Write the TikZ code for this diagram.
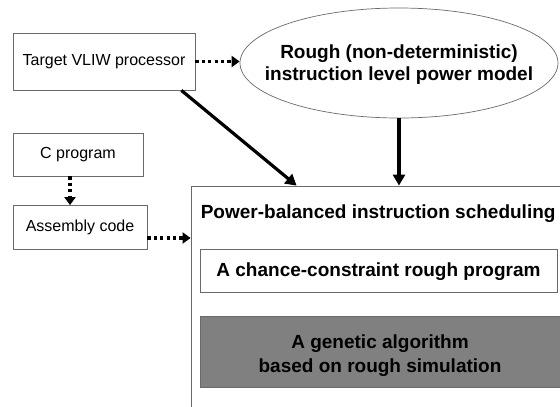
\documentclass[tikz,border=0pt]{standalone}
\usepackage{fontspec}
\setmainfont{Liberation Sans}
\usetikzlibrary{arrows.meta,shapes.geometric,calc}
\definecolor{edgegray}{HTML}{6A6A6A}
\definecolor{boxfill}{HTML}{808080}
\tikzset{
  box/.style={draw=edgegray, line width=0.8pt, rectangle, inner sep=0pt, font=\fontsize{16}{19}\selectfont},
  bbox/.style={draw=edgegray, line width=0.8pt, rectangle, inner sep=0pt},
  btext/.style={inner sep=0pt, align=center, font=\bfseries\fontsize{19}{23}\selectfont},
  dotarrow/.style={line width=3.2pt, dash pattern=on 3.2pt off 3.2pt, -{Triangle[length=8pt,width=11pt]}},
  solidarrow/.style={line width=3.2pt, -{Triangle[length=11pt,width=12pt]}},
}
\begin{document}
\begin{tikzpicture}[x=1pt,y=1pt]
\clip (0,0) rectangle (560,-407);
\fill[white] (0,0) rectangle (560,-407);
\node[box, minimum width=182pt, minimum height=57pt] (vliw) at (104,-61.5) {Target VLIW processor};
\node[box, minimum width=130pt, minimum height=43pt] (cprog) at (78,-154.5) {C program};
\node[box, minimum width=134pt, minimum height=44pt] (asm) at (80,-227.5) {Assembly code};
\node[draw=edgegray, line width=0.7pt, ellipse, inner sep=0pt, minimum width=318pt, minimum height=110pt] (model) at (399,-63) {};
\node[btext, font=\bfseries\fontsize{19}{22}\selectfont] (modeltext) at ($(model.center)+(0,-2)$) {Rough (non-deterministic)\\instruction level power model};
\node[draw=edgegray, line width=0.8pt, rectangle, inner sep=0pt, minimum width=409pt, minimum height=234pt] (sched) at (395.5,-303) {};
\node[font=\bfseries\fontsize{19}{23}\selectfont, anchor=west, inner sep=0pt] (title) at ($(sched.north west)+(10,-28)$) {Power-balanced instruction scheduling};
\node[bbox, minimum width=357pt, minimum height=43pt] (chance) at (378.5,-270.5) {};
\node[btext] (chancetext) at ($(chance.center)+(0,-1.5)$) {A chance-constraint rough program};
\node[bbox, fill=boxfill, minimum width=360pt, minimum height=71pt] (ga) at (380,-351.5) {};
\node[btext, font=\bfseries\fontsize{19}{24}\selectfont] (gatext) at ($(ga.center)+(0,-4)$) {A genetic algorithm\\based on rough simulation};
\draw[dotarrow] (vliw.east) -- (vliw.east -| model.west);
\draw[solidarrow] ($(vliw.south east)+(-14,0)$) -- ($(sched.north west)+(106,0)$);
\draw[solidarrow] (model.south) -- (model.south |- sched.north);
\draw[dotarrow] ($(cprog.south)+(-8,0)$) coordinate (cs) -- (cs |- asm.north);
\draw[dotarrow] ($(asm.east)+(0,-10.5)$) coordinate (ae) -- (ae -| sched.west);
\end{tikzpicture}
\end{document}
